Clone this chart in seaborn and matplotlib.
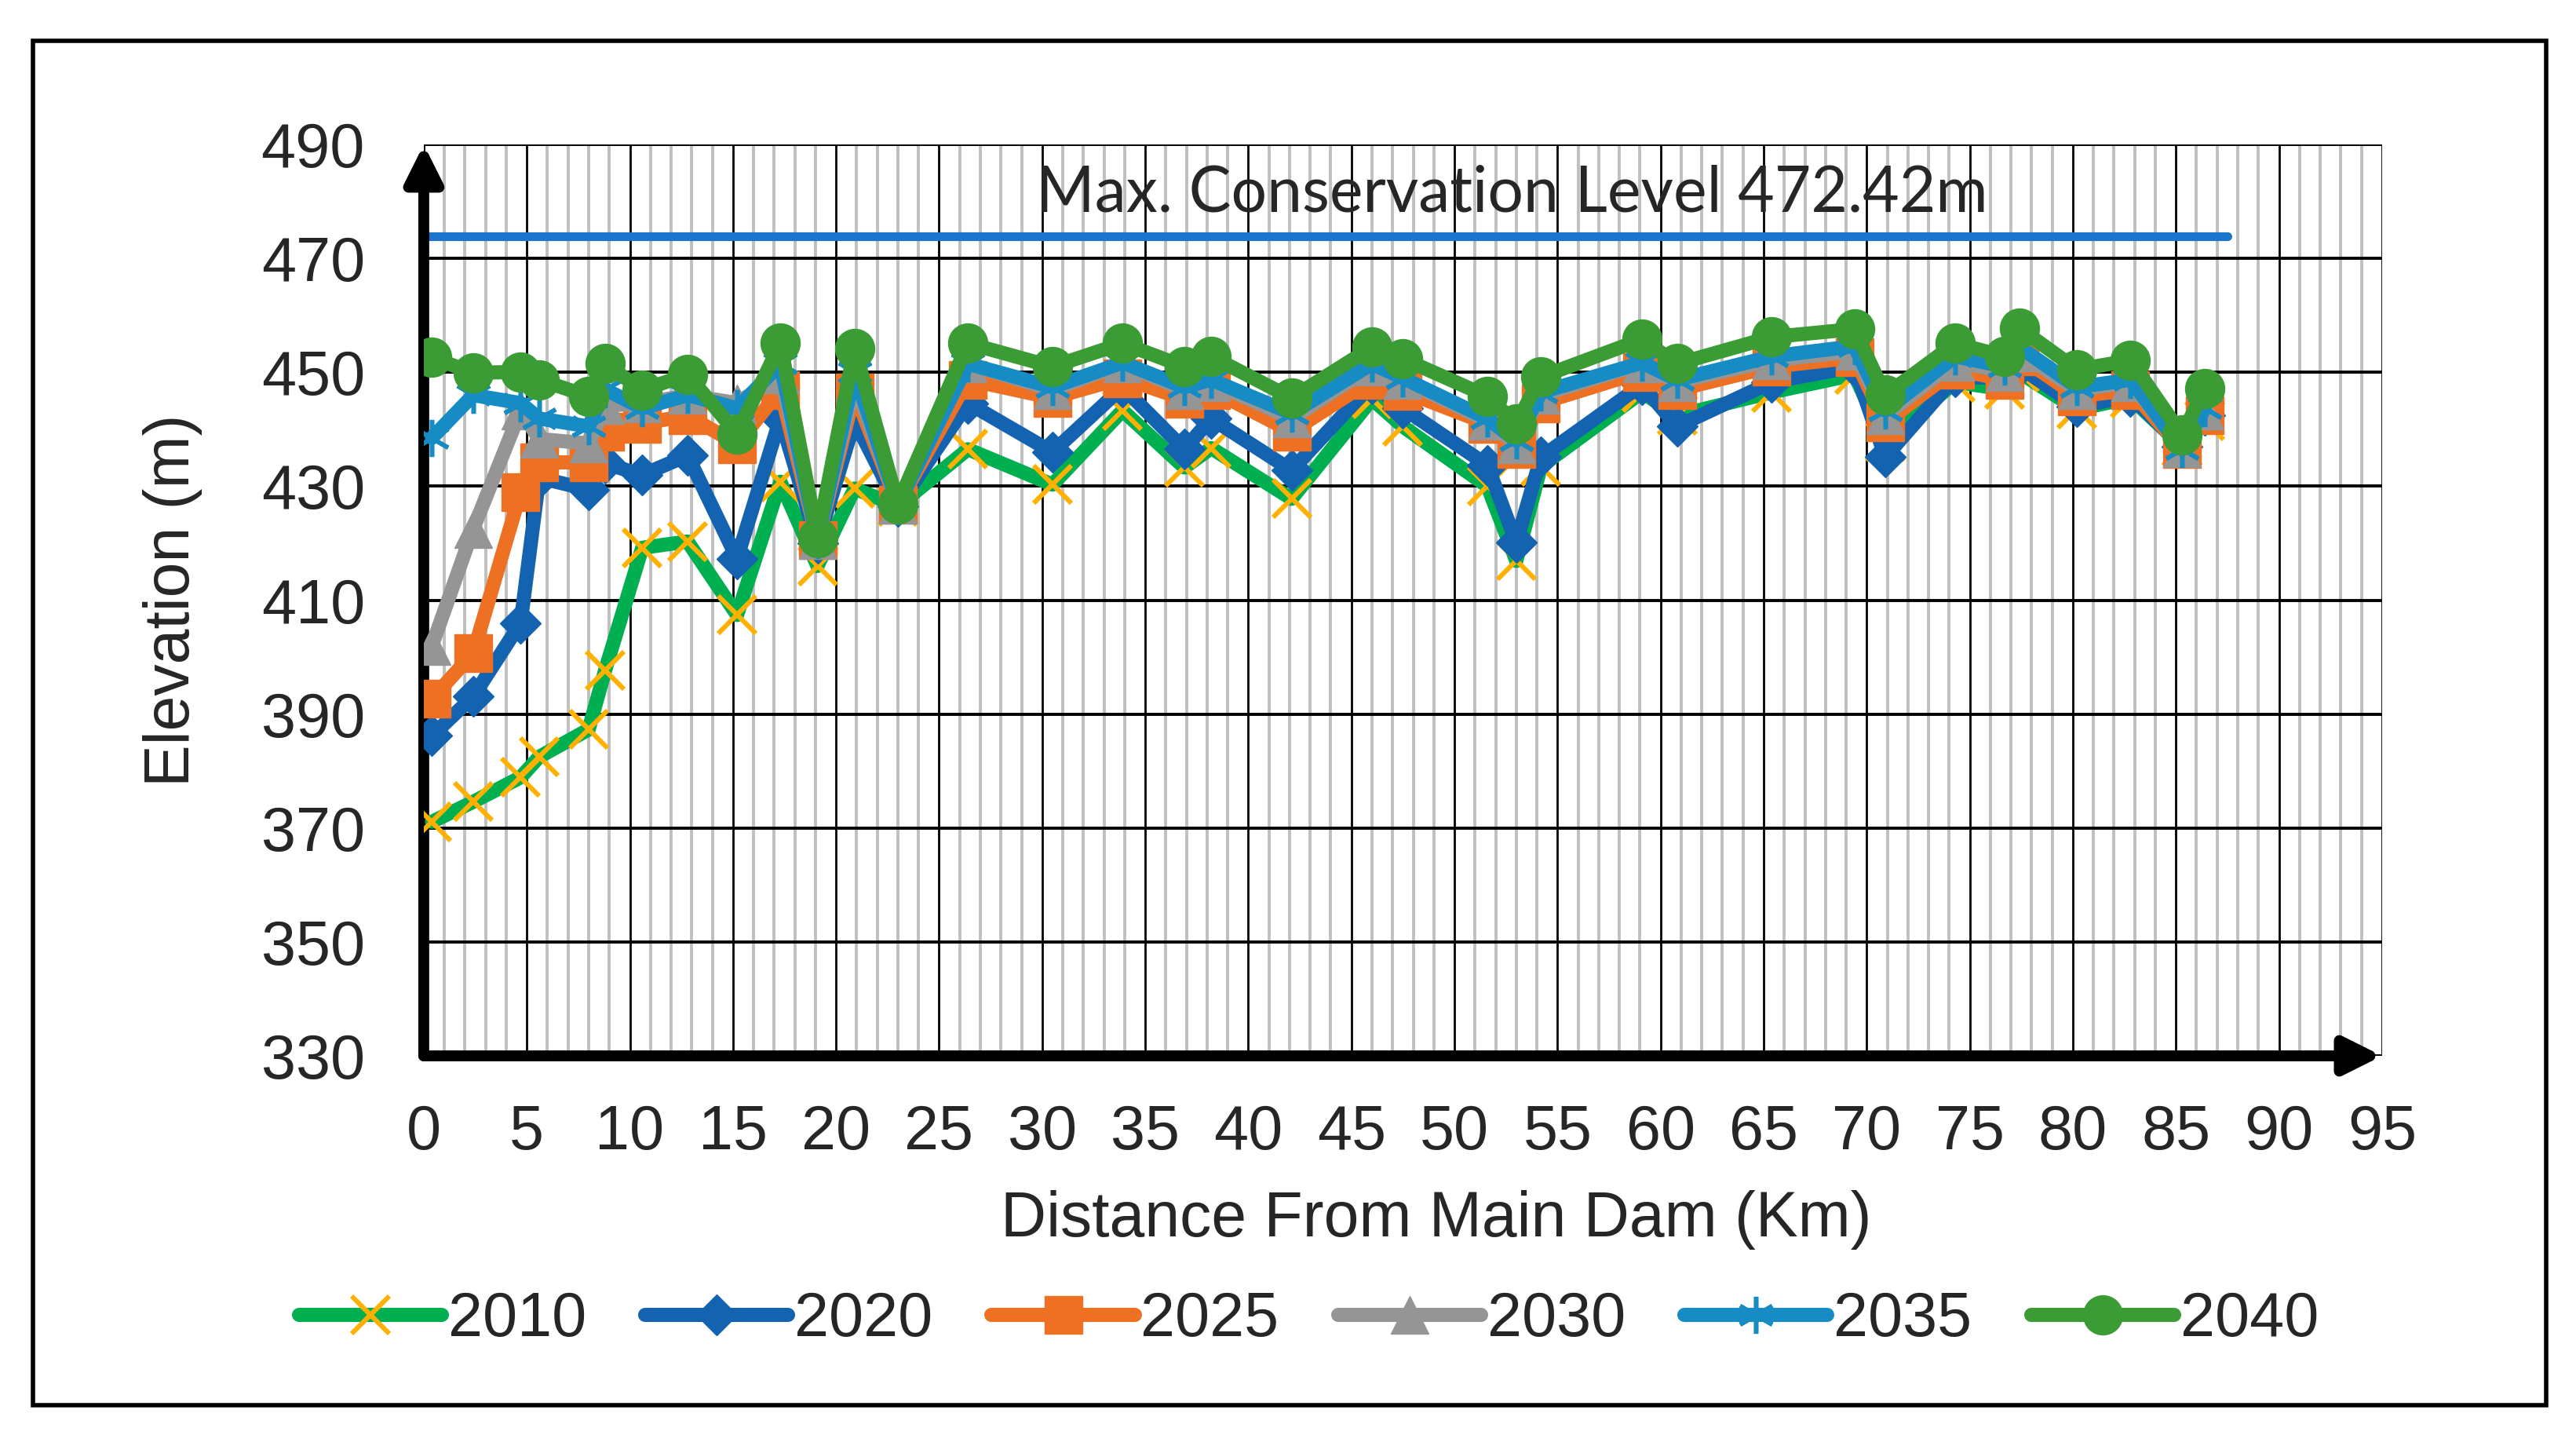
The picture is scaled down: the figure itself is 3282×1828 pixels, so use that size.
import pandas as pd
import matplotlib.pyplot as plt
import seaborn as sns
from matplotlib.ticker import MultipleLocator
from matplotlib.patches import Rectangle

sns.set_style('white')
plt.rcParams['font.family'] = ['Liberation Sans', 'DejaVu Sans']

# cross sections (km from main dam)
distance_km = [0.4, 2.4, 4.7, 5.6, 8.0, 8.8, 10.6, 12.8, 15.2, 17.3, 19.1, 20.9,
               23.0, 26.4, 30.5, 33.9, 36.9, 38.2, 42.1, 46.0, 47.5, 51.6, 53.0, 54.2,
               59.1, 60.8, 65.4, 69.4, 70.9, 74.3, 76.7, 77.4, 80.2, 82.8, 85.3, 86.4]

elev_2010 = [371.1, 374.6, 378.9, 382.5, 387.3, 397.7, 419.2, 420.3, 407.4, 430.8, 416.0, 429.6,
             426.5, 436.5, 430.3, 443.3, 433.3, 436.7, 427.8, 445.3, 440.5, 430.0, 416.9, 433.5,
             446.5, 442.4, 446.5, 449.6, 437.8, 448.3, 447.0, 450.0, 443.5, 445.5, 437.0, 441.5]
elev_2020 = [386.2, 393.1, 406.0, 431.5, 429.4, 434.0, 432.0, 435.4, 417.3, 442.0, 420.0, 441.5,
             426.5, 444.6, 436.0, 447.4, 436.5, 441.9, 432.8, 448.0, 443.7, 433.7, 420.1, 435.1,
             447.8, 440.5, 448.3, 451.0, 435.1, 449.2, 449.0, 451.0, 444.0, 445.8, 437.0, 442.4]
elev_2025 = [392.7, 400.7, 429.0, 434.2, 434.2, 439.6, 441.0, 442.4, 437.4, 446.9, 420.5, 446.5,
             426.8, 448.7, 445.5, 449.0, 445.3, 446.9, 439.6, 448.7, 446.7, 441.0, 436.5, 444.6,
             450.1, 446.9, 451.0, 452.6, 441.2, 450.5, 448.7, 452.8, 445.8, 446.9, 436.5, 442.4]
elev_2030 = [402.0, 422.5, 443.3, 438.3, 437.5, 444.2, 444.5, 446.0, 444.6, 449.6, 420.5, 448.3,
             426.8, 451.5, 446.9, 451.5, 446.9, 448.3, 441.9, 451.0, 448.7, 441.5, 437.4, 446.0,
             451.5, 448.3, 452.1, 453.7, 442.4, 451.9, 450.1, 453.5, 446.9, 448.3, 436.7, 443.3]
elev_2035 = [438.5, 446.0, 444.6, 441.9, 440.5, 447.0, 443.7, 446.0, 443.7, 451.5, 420.5, 450.0,
             426.8, 451.5, 447.4, 451.7, 447.4, 448.7, 442.8, 451.5, 449.0, 441.9, 438.0, 446.5,
             451.7, 448.7, 452.8, 454.6, 443.3, 452.8, 451.0, 454.5, 447.4, 448.7, 436.5, 443.7]
elev_2040 = [452.6, 449.9, 450.1, 448.7, 445.8, 451.5, 446.9, 449.6, 439.2, 455.1, 421.0, 454.2,
             426.9, 455.1, 451.0, 455.1, 451.0, 452.8, 445.5, 454.4, 452.4, 445.8, 441.0, 449.2,
             455.8, 451.5, 456.2, 457.6, 446.0, 455.1, 452.8, 457.8, 450.5, 452.1, 439.0, 447.1]

years = ['2010', '2020', '2025', '2030', '2035', '2040']
series = [elev_2010, elev_2020, elev_2025, elev_2030, elev_2035, elev_2040]

y_ticks = [330, 350, 370, 390, 410, 430, 450, 470, 490]

conservation_level = 473.9
conservation_end_km = 87.5
conservation_label = 'Max. Conservation Level 472.42m'

styles = {
    '2010': dict(color='#00B050', marker='x', markeredgecolor='#FFB000', markerfacecolor='#FFB000',
                 markersize=17, markeredgewidth=2.2),
    '2020': dict(color='#1463B0', marker='D', markeredgecolor='#1463B0', markerfacecolor='#1463B0',
                 markersize=13, markeredgewidth=0.5),
    '2025': dict(color='#ED7023', marker='s', markeredgecolor='#ED7023', markerfacecolor='#ED7023',
                 markersize=17, markeredgewidth=0.5),
    '2030': dict(color='#959595', marker='^', markeredgecolor='#959595', markerfacecolor='#959595',
                 markersize=17, markeredgewidth=0.5),
    '2035': dict(color='#178CC4', marker=(6, 2, 0), markeredgecolor='#178CC4', markerfacecolor='#178CC4',
                 markersize=17, markeredgewidth=2.0),
    '2040': dict(color='#3B9B34', marker='o', markeredgecolor='#3B9B34', markerfacecolor='#3B9B34',
                 markersize=18, markeredgewidth=0.5),
}

fig = plt.figure(figsize=(16.41, 9.14), dpi=200)
ax = fig.add_axes([0.1645, 0.2642, 0.7602, 0.6351])

for year, vals in zip(years, series):
    df = pd.DataFrame({'distance': distance_km, 'elevation': vals})
    sns.lineplot(data=df, x='distance', y='elevation', ax=ax, label=year, linewidth=6.5,
                 estimator=None, sort=False, zorder=4, **styles[year])

# max conservation level
ax.plot([0, conservation_end_km], [conservation_level, conservation_level],
        color='#1C75CC', linewidth=4, zorder=3)
ax.text(52.8, 481.4, conservation_label, ha='center', va='center', fontsize=29,
        family=['Lato', 'DejaVu Sans'])

ax.set_xlim(0, 95)
ax.set_ylim(330, 490)
ax.xaxis.set_major_locator(MultipleLocator(5))
ax.xaxis.set_minor_locator(MultipleLocator(1))
ax.set_yticks(y_ticks)
ax.set_axisbelow(True)
ax.grid(which='minor', axis='x', color='#BFBFBF', linewidth=1.4)
ax.grid(which='major', axis='x', color='black', linewidth=1.0)
ax.grid(which='major', axis='y', color='black', linewidth=1.4)
for s in ax.spines.values():
    s.set_visible(False)
ax.tick_params(which='both', length=0, labelsize=28.5)
ax.tick_params(axis='x', pad=22)
ax.tick_params(axis='y', pad=27)

# axis arrows
arrow = dict(arrowstyle='-|>', color='black', lw=5, mutation_scale=35, shrinkA=0, shrinkB=0)
ax.annotate('', xy=(95, 330), xytext=(0, 330), arrowprops=arrow, annotation_clip=False, zorder=3)
ax.annotate('', xy=(0, 490), xytext=(0, 330), arrowprops=arrow, annotation_clip=False, zorder=3)

ax.set_xlabel('Distance From Main Dam (Km)', fontsize=29)
ax.set_ylabel('Elevation (m)', fontsize=29)
ax.xaxis.set_label_coords(0.517, -0.147)
ax.yaxis.set_label_coords(-0.113, 0.5)

handles, labels = ax.get_legend_handles_labels()
ax.get_legend().remove()
fig.legend(handles, labels, loc='center', bbox_to_anchor=(0.508, 0.08), ncol=6, frameon=False,
           fontsize=28.5, handlelength=2.3, handletextpad=0.1, columnspacing=0.95)

fig.add_artist(Rectangle((0.0128, 0.0208), 0.9756, 0.9508, transform=fig.transFigure,
                         fill=False, linewidth=2, edgecolor='black'))

fig.savefig('out.png', dpi=200)
